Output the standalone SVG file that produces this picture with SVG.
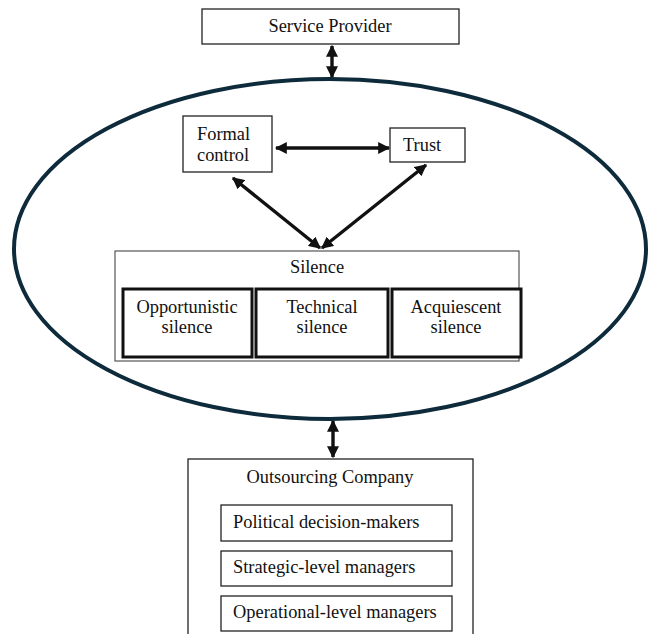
<svg xmlns="http://www.w3.org/2000/svg" width="648" height="634" viewBox="0 0 648 634">
<style>
.box{fill:#fff;stroke:#222;stroke-width:1.3}
.thin{fill:#fff;stroke:#555;stroke-width:1.2}
.thick{fill:#fff;stroke:#111;stroke-width:3}
.arr{stroke:#111;stroke-width:3.4;fill:none;marker-start:url(#ah);marker-end:url(#ah)}
.c{text-anchor:middle}
</style>
<defs>
<marker id="ah" viewBox="0 0 10 10" refX="9" refY="5" markerWidth="12" markerHeight="12" markerUnits="userSpaceOnUse" orient="auto-start-reverse">
<path d="M0,0 L10,5 L0,10 z" fill="#111"/>
</marker>
</defs>
<g font-family="Liberation Serif, Times New Roman, serif" font-size="18.4" fill="#111">
<g id="context">
<ellipse cx="330" cy="249" rx="316" ry="170" fill="none" stroke="#0e2b3c" stroke-width="4"/>
</g>
<g id="service-provider">
<rect class="box" x="202" y="9" width="257" height="35"/>
<text class="c" x="330" y="32">Service Provider</text>
</g>
<g id="formal-control">
<rect class="box" x="183" y="116" width="89" height="56"/>
<text x="197" y="140">Formal</text>
<text x="197" y="161">control</text>
</g>
<g id="trust">
<rect class="box" x="390" y="128" width="75" height="34"/>
<text x="403" y="151">Trust</text>
</g>
<g id="silence">
<rect class="thin" x="115" y="251" width="404" height="110"/>
<text class="c" x="317" y="273">Silence</text>
</g>
<g id="opportunistic-silence">
<rect class="thick" x="123" y="289" width="129" height="68"/>
<text class="c" x="187" y="313">Opportunistic</text>
<text class="c" x="187" y="333">silence</text>
</g>
<g id="technical-silence">
<rect class="thick" x="256" y="289" width="132" height="68"/>
<text class="c" x="322" y="313">Technical</text>
<text class="c" x="322" y="333">silence</text>
</g>
<g id="acquiescent-silence">
<rect class="thick" x="392" y="289" width="129" height="68"/>
<text class="c" x="456" y="313">Acquiescent</text>
<text class="c" x="456" y="333">silence</text>
</g>
<g id="outsourcing-company">
<rect class="box" x="188" y="459" width="285" height="185"/>
<text class="c" x="330" y="483">Outsourcing Company</text>
</g>
<g id="political">
<rect class="box" x="221" y="505" width="231" height="36"/>
<text x="233" y="528">Political decision-makers</text>
</g>
<g id="strategic">
<rect class="box" x="221" y="551" width="231" height="35"/>
<text x="233" y="573">Strategic-level managers</text>
</g>
<g id="operational">
<rect class="box" x="221" y="596" width="231" height="35"/>
<text x="233" y="618">Operational-level managers</text>
</g>
</g>
<g id="connectors">
<line class="arr" x1="332" y1="46" x2="332" y2="77"/>
<line class="arr" x1="276" y1="148" x2="389" y2="148"/>
<line class="arr" x1="233" y1="178" x2="320" y2="248"/>
<line class="arr" x1="426" y1="165" x2="322" y2="248"/>
<line class="arr" x1="333" y1="421" x2="333" y2="457"/>
</g>
</svg>
